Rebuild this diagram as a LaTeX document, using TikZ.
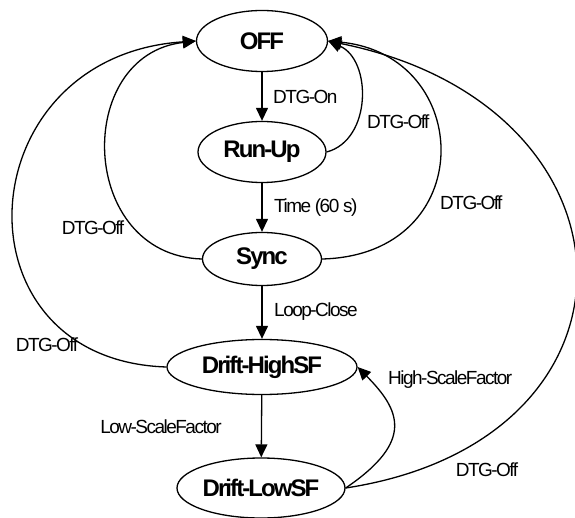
\documentclass[tikz,border=0pt]{standalone}
\usepackage{fontspec}
\setmainfont{Liberation Sans}[LetterSpace=-8]
\usetikzlibrary{arrows.meta,shapes.geometric}
\tikzset{
  state/.style={ellipse,draw,line width=1.3pt,inner sep=0pt,
    font=\fontsize{24}{26}\selectfont\bfseries},
  lab/.style={inner sep=0pt,font=\fontsize{19}{21}\selectfont},
  arr/.style={line width=1.3pt,-{Triangle[length=13pt,width=12pt]}},
}

\begin{document}
\begin{tikzpicture}[x=1pt,y=-1pt]
  \useasboundingbox (0,0) rectangle (575,518);
  % states
  \node[state,minimum width=131pt,minimum height=61pt] (off) at (262,41) {OFF};
  \node[state,minimum width=128pt,minimum height=61pt] (runup) at (262,152) {Run-Up};
  \node[state,minimum width=119pt,minimum height=53pt] (sync) at (262,259) {Sync};
  \node[state,minimum width=190pt,minimum height=55pt] (high) at (262,367) {Drift-HighSF};
  \node[state,minimum width=168pt,minimum height=60pt] (low) at (261,488) {Drift-LowSF};
  % main chain
  \draw[arr] (off) -- (runup);
  \draw[arr] (runup) -- (sync);
  \draw[arr] (sync) -- (high);
  \draw[arr] (high) -- (low);
  % back to OFF
  \draw[arr] (runup.east) .. controls (372,140) and (372,60) .. (off.east);
  \draw[arr] (sync.east) .. controls (480,255) and (475,55) .. (off.east);
  \draw[arr] (sync.west) .. controls (78,255) and (73,55) .. (off.west);
  \draw[arr] (high.west) .. controls (-50,360) and (-34,56) .. (off.west);
  \draw[arr] (low.east) .. controls (660,440) and (650,106) .. (off.east);
  \draw[arr] (low.east) .. controls (415,441) and (400,410) .. (high.east);
  % labels
  \node[lab,anchor=west] (l1) at (273,97) {DTG-On};
  \node[lab,anchor=west] (l2) at (274,208) {Time (60 s)};
  \node[lab,anchor=west] (l3) at (274,312) {Loop-Close};
  \node[lab] (l4) at (161,427) {Low-ScaleFactor};
  \node[lab,anchor=west] (l5) at (388,380) {High-ScaleFactor};
  \node[lab,anchor=west] (l6) at (367,122) {DTG-Off};
  \node[lab,anchor=west] (l7) at (440,203) {DTG-Off};
  \node[lab] (l8) at (93,228) {DTG-Off};
  \node[lab] (l9) at (47,345) {DTG-Off};
  \node[lab] (l10) at (487,470) {DTG-Off};
\end{tikzpicture}
\end{document}
